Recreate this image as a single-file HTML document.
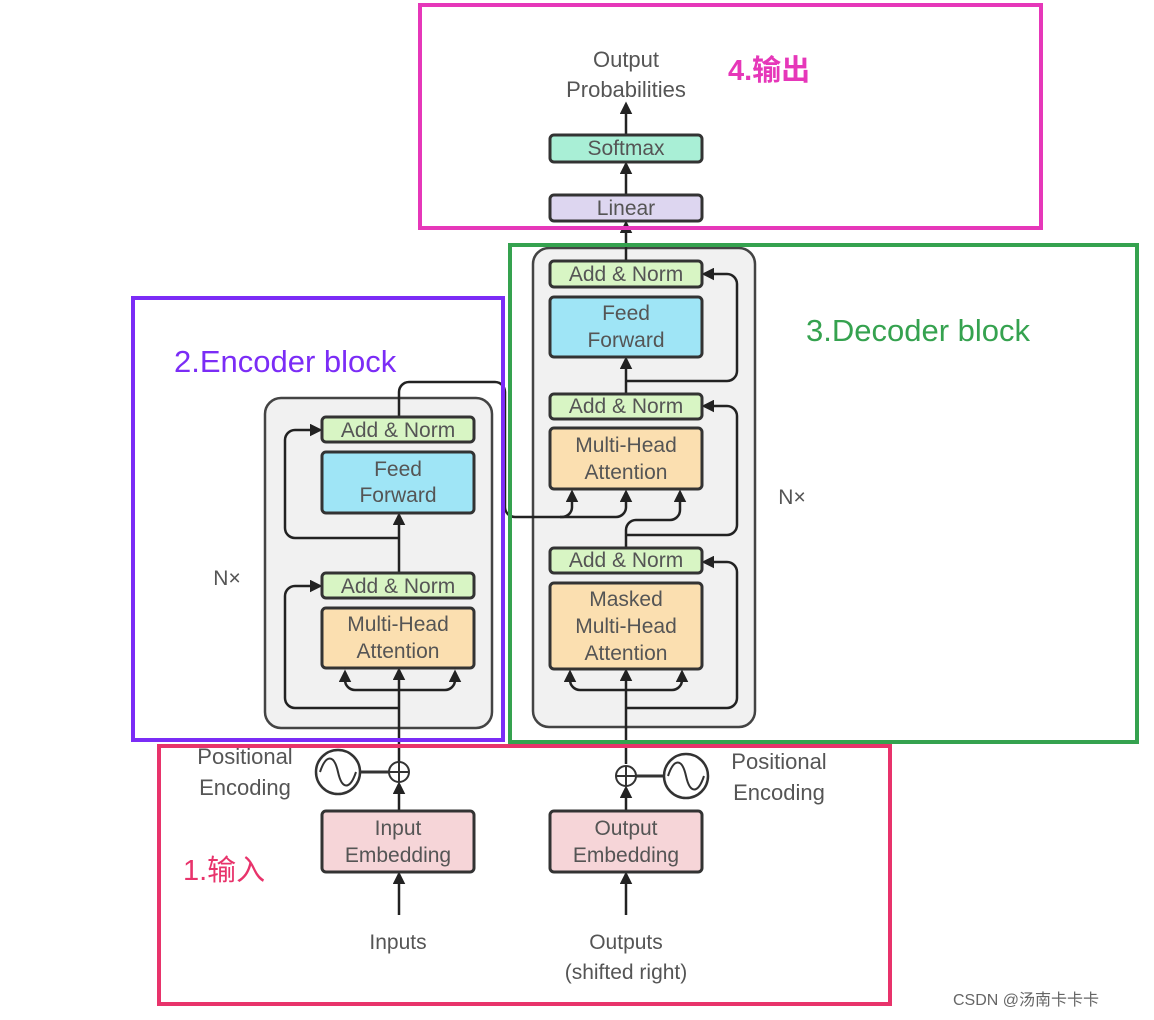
<!DOCTYPE html>
<html><head><meta charset="utf-8"><style>
html,body{margin:0;padding:0;background:#fff;}
svg{display:block;}
text{font-family:"Liberation Sans","Noto Sans CJK SC",sans-serif;}
.t{fill:#555;font-size:21px;text-anchor:middle;}
.bx{stroke:#333;stroke-width:3;}
.ln{stroke:#222;stroke-width:2.5;fill:none;}
</style></head><body>
<svg width="1154" height="1020" viewBox="0 0 1154 1020" xmlns="http://www.w3.org/2000/svg">
<defs><marker id="a" viewBox="0 0 10 10" refX="8" refY="5" markerWidth="5" markerHeight="5" orient="auto"><path d="M0,0L10,5L0,10z" fill="#222"/></marker></defs>

<rect x="265" y="398" width="227" height="330" rx="16" fill="#f1f1f1" stroke="#444" stroke-width="2.5"/>
<rect x="533" y="248" width="222" height="479" rx="16" fill="#f1f1f1" stroke="#444" stroke-width="2.5"/>

<path class="ln" d="M399 915V874" marker-end="url(#a)"/>
<path class="ln" d="M399 811V784" marker-end="url(#a)"/>
<path class="ln" d="M399 762V670" marker-end="url(#a)"/>
<path class="ln" d="M399 708H295a10 10 0 0 1-10-10V596a10 10 0 0 1 10-10H320" marker-end="url(#a)"/>
<path class="ln" d="M399 690H355a10 10 0 0 1-10-10V672" marker-end="url(#a)"/>
<path class="ln" d="M399 690H445a10 10 0 0 0 10-10V672" marker-end="url(#a)"/>
<path class="ln" d="M399 598V515" marker-end="url(#a)"/>
<path class="ln" d="M399 538H295a10 10 0 0 1-10-10V440a10 10 0 0 1 10-10H320" marker-end="url(#a)"/>
<path class="ln" d="M399 417V392a10 10 0 0 1 10-10H495a10 10 0 0 1 10 10V507a10 10 0 0 0 10 10H562a10 10 0 0 0 10-10V492" marker-end="url(#a)"/>
<path class="ln" d="M560 517H616a10 10 0 0 0 10-10V492" marker-end="url(#a)"/>

<path class="ln" d="M626 915V874" marker-end="url(#a)"/>
<path class="ln" d="M626 811V788" marker-end="url(#a)"/>
<path class="ln" d="M626 764V671" marker-end="url(#a)"/>
<path class="ln" d="M626 708H727a10 10 0 0 0 10-10V572a10 10 0 0 0-10-10H704" marker-end="url(#a)"/>
<path class="ln" d="M626 690H580a10 10 0 0 1-10-10V672" marker-end="url(#a)"/>
<path class="ln" d="M626 690H672a10 10 0 0 0 10-10V672" marker-end="url(#a)"/>
<path class="ln" d="M626 548V530a10 10 0 0 1 10-10H670a10 10 0 0 0 10-10V492" marker-end="url(#a)"/>
<path class="ln" d="M626 535H727a10 10 0 0 0 10-10V416a10 10 0 0 0-10-10H704" marker-end="url(#a)"/>
<path class="ln" d="M626 394V359" marker-end="url(#a)"/>
<path class="ln" d="M626 381H727a10 10 0 0 0 10-10V284a10 10 0 0 0-10-10H704" marker-end="url(#a)"/>
<path class="ln" d="M626 261V223" marker-end="url(#a)"/>
<path class="ln" d="M626 195V164" marker-end="url(#a)"/>
<path class="ln" d="M626 135V104" marker-end="url(#a)"/>

<rect class="bx" x="322" y="417" width="152" height="25" rx="4" fill="#d8f5c4"/>
<text class="t" x="398" y="437">Add &amp; Norm</text>
<rect class="bx" x="322" y="452" width="152" height="61" rx="4" fill="#9fe5f6"/>
<text class="t" x="398" y="476">Feed</text><text class="t" x="398" y="502">Forward</text>
<rect class="bx" x="322" y="573" width="152" height="25" rx="4" fill="#d8f5c4"/>
<text class="t" x="398" y="593">Add &amp; Norm</text>
<rect class="bx" x="322" y="608" width="152" height="60" rx="4" fill="#fbdfb0"/>
<text class="t" x="398" y="631">Multi-Head</text><text class="t" x="398" y="658">Attention</text>

<rect class="bx" x="550" y="261" width="152" height="26" rx="4" fill="#d8f5c4"/>
<text class="t" x="626" y="281">Add &amp; Norm</text>
<rect class="bx" x="550" y="297" width="152" height="60" rx="4" fill="#9fe5f6"/>
<text class="t" x="626" y="320">Feed</text><text class="t" x="626" y="347">Forward</text>
<rect class="bx" x="550" y="394" width="152" height="25" rx="4" fill="#d8f5c4"/>
<text class="t" x="626" y="413">Add &amp; Norm</text>
<rect class="bx" x="550" y="428" width="152" height="61" rx="4" fill="#fbdfb0"/>
<text class="t" x="626" y="452">Multi-Head</text><text class="t" x="626" y="479">Attention</text>
<rect class="bx" x="550" y="548" width="152" height="25" rx="4" fill="#d8f5c4"/>
<text class="t" x="626" y="567">Add &amp; Norm</text>
<rect class="bx" x="550" y="583" width="152" height="86" rx="4" fill="#fbdfb0"/>
<text class="t" x="626" y="606">Masked</text><text class="t" x="626" y="633">Multi-Head</text><text class="t" x="626" y="660">Attention</text>

<rect class="bx" x="550" y="195" width="152" height="26" rx="4" fill="#ddd6f0"/>
<text class="t" x="626" y="215">Linear</text>
<rect class="bx" x="550" y="135" width="152" height="27" rx="4" fill="#a9efd6"/>
<text class="t" x="626" y="155">Softmax</text>
<text class="t" x="626" y="67" style="font-size:22px">Output</text><text class="t" x="626" y="97" style="font-size:22px">Probabilities</text>

<rect class="bx" x="322" y="811" width="152" height="61" rx="4" fill="#f6d5d8"/>
<text class="t" x="398" y="835">Input</text><text class="t" x="398" y="862">Embedding</text>
<rect class="bx" x="550" y="811" width="152" height="61" rx="4" fill="#f6d5d8"/>
<text class="t" x="626" y="835">Output</text><text class="t" x="626" y="862">Embedding</text>

<circle cx="399" cy="772" r="10" fill="#fff" stroke="#333" stroke-width="2"/>
<path d="M389 772h20M399 762v20" stroke="#333" stroke-width="2"/>
<line x1="360" y1="772" x2="389" y2="772" stroke="#333" stroke-width="3"/>
<circle cx="338" cy="772" r="22" fill="#fff" stroke="#333" stroke-width="2.5"/>
<path d="M320 772c6-18 14-18 18 0s12 18 18 0" fill="none" stroke="#333" stroke-width="2"/>
<circle cx="626" cy="776" r="10" fill="#fff" stroke="#333" stroke-width="2"/>
<path d="M616 776h20M626 766v20" stroke="#333" stroke-width="2"/>
<line x1="636" y1="776" x2="664" y2="776" stroke="#333" stroke-width="3"/>
<circle cx="686" cy="776" r="22" fill="#fff" stroke="#333" stroke-width="2.5"/>
<path d="M668 776c6-18 14-18 18 0s12 18 18 0" fill="none" stroke="#333" stroke-width="2"/>
<text class="t" x="245" y="764" style="font-size:22px">Positional</text>
<text class="t" x="245" y="795" style="font-size:22px">Encoding</text>
<text class="t" x="779" y="769" style="font-size:22px">Positional</text>
<text class="t" x="779" y="800" style="font-size:22px">Encoding</text>
<text class="t" x="398" y="949" style="font-size:21px">Inputs</text>
<text class="t" x="626" y="949" style="font-size:21px">Outputs</text>
<text class="t" x="626" y="979" style="font-size:21px">(shifted right)</text>
<text class="t" x="227" y="585">N×</text>
<text class="t" x="792" y="504">N×</text>

<rect x="420" y="5" width="621" height="223" fill="none" stroke="#e637b9" stroke-width="4"/>
<rect x="133" y="298" width="370" height="442" fill="none" stroke="#7b2cf6" stroke-width="4"/>
<rect x="510" y="245" width="627" height="497" fill="none" stroke="#35a24f" stroke-width="4"/>
<rect x="159" y="746" width="731" height="258" fill="none" stroke="#e8336b" stroke-width="4"/>

<text x="728" y="80" style="font-size:29px;fill:#e637b9;font-weight:bold">4.输出</text>
<text x="174" y="372" style="font-size:31px;fill:#7b2cf6">2.Encoder block</text>
<text x="806" y="341" style="font-size:31px;fill:#35a24f">3.Decoder block</text>
<text x="183" y="880" style="font-size:29px;fill:#e8336b">1.输入</text>
<text x="953" y="1005" style="font-size:16px;fill:#666">CSDN @汤南卡卡卡</text>
</svg>
</body></html>
